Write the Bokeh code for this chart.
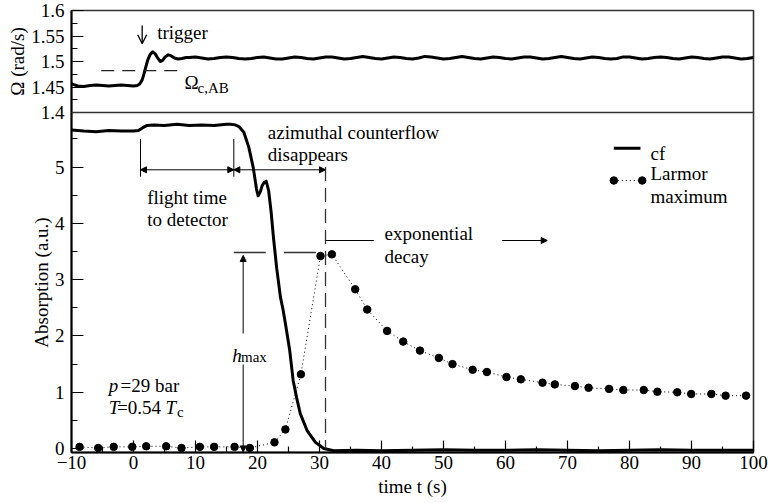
from bokeh.plotting import figure
from bokeh.layouts import column
from bokeh.models import Range1d, FixedTicker, Arrow, NormalHead, OpenHead, Label
from bokeh.embed import file_html
from bokeh.resources import INLINE

FONT = "Liberation Serif"

# ---- time axis ----
x_ticks = [-10, 0, 10, 20, 30, 40, 50, 60, 70, 80, 90, 100]
x_minor = [-5, 5, 15, 25, 35, 45, 55, 65, 75, 85, 95]

# ---- absorption panel (bottom) ----
abs_ticks = [0, 1, 2, 3, 4, 5]
abs_minor = [0.5, 1.5, 2.5, 3.5, 4.5, 5.5]

# ---- rotation panel (top) ----
om_ticks = [1.4, 1.45, 1.5, 1.55, 1.6]
om_minor = [1.425, 1.475, 1.525, 1.575]
omega_c_ab = 1.482

# rotation velocity Omega(t)
om_t_early = [-10, -9, -8, -7, -6, -5, -4, -3, -2, -1, 0, 0.6, 1.0, 1.4, 1.7, 2.0,
              2.3, 2.7, 3.1, 3.5, 3.9, 4.3, 4.7, 5.1, 5.6, 6.1, 6.6, 7.2, 7.8, 8.5]
om_v_early = [1.456, 1.452, 1.451, 1.453, 1.454, 1.453, 1.452, 1.453, 1.454, 1.453,
              1.452, 1.453, 1.456, 1.464, 1.476, 1.490, 1.503, 1.514, 1.519, 1.515,
              1.507, 1.500, 1.502, 1.509, 1.513, 1.511, 1.507, 1.505, 1.506, 1.508]
om_t_late = list(range(9, 101))
om_v_late = [1.508, 1.509, 1.507, 1.505, 1.506, 1.508, 1.509, 1.508, 1.506, 1.505,
             1.506, 1.508, 1.509, 1.507, 1.505, 1.505, 1.507, 1.509, 1.508, 1.506,
             1.505, 1.507, 1.509, 1.509, 1.507, 1.505, 1.506, 1.508, 1.510, 1.508,
             1.506, 1.505, 1.507, 1.509, 1.508, 1.506, 1.505, 1.507, 1.510, 1.509,
             1.507, 1.505, 1.506, 1.508, 1.510, 1.508, 1.506, 1.505, 1.507, 1.509,
             1.508, 1.506, 1.505, 1.507, 1.509, 1.509, 1.507, 1.505, 1.506, 1.508,
             1.510, 1.508, 1.506, 1.505, 1.507, 1.509, 1.508, 1.506, 1.505, 1.506,
             1.509, 1.509, 1.507, 1.505, 1.506, 1.508, 1.509, 1.508, 1.506, 1.505,
             1.507, 1.509, 1.508, 1.506, 1.505, 1.507, 1.509, 1.509, 1.507, 1.505,
             1.506, 1.508]
om_t = om_t_early + om_t_late
om_v = om_v_early + om_v_late

# counterflow absorption signal (cf)
cf_t = [-10, -8, -6, -4, -2, 0, 0.8, 1.5, 2.2, 3.3, 5, 7, 9, 11, 13, 15, 15.6, 16.4,
        17.0, 17.8, 18.6, 19.3, 19.84, 20.1, 20.45, 20.75, 21.1, 21.4, 21.8, 22.2,
        22.6, 23.1, 23.7, 24.1, 24.5, 25.2, 25.75, 26.3, 26.9, 28.0, 29.35, 30.7,
        32.3, 36, 40, 45, 50, 55, 60, 65, 70, 75, 80, 85, 90, 95, 100]
cf_v = [5.66, 5.64, 5.63, 5.65, 5.64, 5.64, 5.65, 5.70, 5.74, 5.75, 5.74, 5.76, 5.74,
        5.75, 5.74, 5.76, 5.76, 5.75, 5.72, 5.62, 5.35, 5.00, 4.61, 4.49, 4.56, 4.67,
        4.73, 4.75, 4.58, 4.20, 3.72, 3.20, 2.69, 2.48, 2.22, 1.74, 1.21, 0.91, 0.62,
        0.32, 0.11, 0.00, -0.04, -0.03, -0.04, -0.03, -0.02, -0.03, -0.03, -0.02,
        -0.03, -0.04, -0.03, -0.02, -0.03, -0.03, -0.03]

# Larmor maximum height
lm_t = [-8.7, -5.7, -3.2, -0.2, 2.05, 5.27, 7.74, 10.7, 13.0, 16.3, 18.76, 22.74,
        24.5, 27.0, 30.16, 32.0, 35.76, 37.7, 40.9, 43.5, 46.2, 49.25, 51.45, 54.7,
        57.0, 60.16, 62.47, 65.97, 67.95, 71.2, 73.4, 76.7, 79.0, 82.3, 84.5, 87.7,
        89.95, 93.2, 95.5, 98.8]
lm_v = [0.03, 0.01, 0.03, 0.03, 0.04, 0.04, 0.01, 0.03, 0.03, 0.03, 0.01, 0.11,
        0.34, 1.32, 3.42, 3.45, 2.83, 2.47, 2.09, 1.90, 1.74, 1.61, 1.50, 1.40,
        1.36, 1.27, 1.23, 1.17, 1.14, 1.11, 1.08, 1.06, 1.04, 1.04, 1.01, 1.00,
        0.97, 0.97, 0.94, 0.94]

# ---- figures: Omega panel on top, absorption panel below (sharing time axis) ----
top = figure(width=768, height=122, x_range=Range1d(-10, 100), y_range=Range1d(1.4, 1.6),
             output_backend="svg", toolbar_location=None, x_axis_type=None,
             min_border_left=71, min_border_right=15, min_border_top=10,
             min_border_bottom=10)
bot = figure(width=768, height=391, x_range=top.x_range, y_range=Range1d(-0.07, 5.97),
             output_backend="svg", toolbar_location=None,
             min_border_left=71, min_border_right=15, min_border_top=0,
             min_border_bottom=51, margin=(-10, 0, 0, 0))


def style_axis(ax):
    ax.axis_line_width = 2
    ax.axis_line_color = "black"
    ax.major_tick_in = 12
    ax.major_tick_out = 0
    ax.minor_tick_in = 6
    ax.minor_tick_out = 0
    ax.major_tick_line_color = "black"
    ax.minor_tick_line_color = "black"
    ax.major_tick_line_width = 1.2
    ax.minor_tick_line_width = 1.2
    ax.major_label_text_font = FONT
    ax.major_label_text_font_size = "19px"
    ax.major_label_text_color = "black"
    ax.axis_label_text_font = FONT
    ax.axis_label_text_font_size = "19px"
    ax.axis_label_text_font_style = "normal"
    ax.axis_label_text_color = "black"


for f in (top, bot):
    f.xgrid.visible = False
    f.ygrid.visible = False
    f.background_fill_color = "white"
    f.border_fill_color = None
    f.outline_line_color = "#333333"
    f.outline_line_width = 1.6
    for ax in f.yaxis:
        style_axis(ax)
        ax.major_label_standoff = 7
        ax.axis_label_standoff = 0
for ax in bot.xaxis:
    style_axis(ax)
    ax.major_label_standoff = 3
    ax.axis_label_standoff = 4

top.yaxis.ticker = FixedTicker(ticks=om_ticks, minor_ticks=om_minor)
top.yaxis.axis_label = "\u03a9 (rad/s)"
bot.yaxis.ticker = FixedTicker(ticks=abs_ticks, minor_ticks=abs_minor)
bot.yaxis.axis_label = "Absorption (a.u.)"
bot.xaxis.ticker = FixedTicker(ticks=x_ticks, minor_ticks=x_minor)
bot.xaxis.axis_label = "time t (s)"


def label(fig, x, y, text, size="19px", style="normal", **kw):
    fig.add_layout(Label(x=x, y=y, text=text, text_font=FONT, text_font_size=size,
                         text_font_style=style, text_color="black",
                         text_baseline="alphabetic", text_align="left", **kw))


def head():
    return NormalHead(size=6, fill_color="black", line_color="black")


# ---- top panel: Omega(t) ----
top.line(om_t, om_v, line_color="black", line_width=3, line_join="round")
top.line([-5.2, 7.1], [omega_c_ab, omega_c_ab], line_color="#222222", line_width=1.3,
         line_dash="13 8")
top.add_layout(Arrow(end=OpenHead(size=9, line_width=1.3, line_color="black"),
                     x_start=1.4, y_start=1.5706, x_end=1.4, y_end=1.5347,
                     line_width=1.3, line_color="black"))
label(top, 3.82, 1.5563, "trigger")
label(top, 8.23, 1.4598, "\u03a9")
label(top, 10.32, 1.448, "c,AB", size="15px")

# ---- bottom panel: absorption ----
bot.line(lm_t, lm_v, line_color="black", line_width=1, line_dash="1 3")
bot.scatter(lm_t, lm_v, size=7.5, color="black")
bot.line(cf_t, cf_v, line_color="black", line_width=3, line_join="round")

# flight time / counterflow disappearance markers
for tx in (1.13, 16.18):
    bot.line([tx, tx], [4.83, 5.50], line_color="black", line_width=1)
for xs, xe in ((1.13, 16.18), (16.18, 30.97)):
    bot.add_layout(Arrow(start=head(), end=head(), x_start=xs, y_start=4.952,
                         x_end=xe, y_end=4.952, line_width=1, line_color="black"))
bot.line([30.97, 30.97], [5.0, 0.0], line_color="#333333", line_width=1.3,
         line_dash="14 7")

# h_max level and arrow
bot.line([16.18, 29.84], [3.483, 3.483], line_color="#333333", line_width=1.3,
         line_dash="32 18")
bot.add_layout(Arrow(end=head(), x_start=17.69, y_start=2.044, x_end=17.69, y_end=3.43,
                     line_width=1, line_color="black"))
bot.add_layout(Arrow(end=head(), x_start=17.69, y_start=1.493, x_end=17.69, y_end=-0.06,
                     line_width=1, line_color="black"))
label(bot, 15.92, 1.653, "h", style="italic")
label(bot, 17.34, 1.635, "max", size="15px")

# exponential decay
bot.line([30.97, 38.76], [3.696, 3.696], line_color="black", line_width=1)
bot.add_layout(Arrow(end=head(), x_start=59.47, y_start=3.696, x_end=66.73,
                     y_end=3.696, line_width=1, line_color="black"))

label(bot, 21.66, 5.620, "azimuthal counterflow")
label(bot, 21.66, 5.224, "disappears")
label(bot, 2.21, 4.465, "flight time")
label(bot, 2.21, 4.064, "to detector")
label(bot, 40.48, 3.826, "exponential")
label(bot, 40.48, 3.412, "decay")

# experimental conditions
label(bot, -3.98, 1.120, "p", style="italic")
label(bot, -2.10, 1.120, "=29 bar")
label(bot, -3.98, 0.724, "T", style="italic")
label(bot, -2.66, 0.724, "=0.54")
label(bot, 5.16, 0.724, "T", style="italic")
label(bot, 7.02, 0.658, "c", size="15px")

# key
bot.line([77.47, 81.77], [5.336, 5.336], line_color="black", line_width=3)
label(bot, 83.39, 5.247, "cf")
bot.line([77.47, 82.05], [4.762, 4.762], line_color="black", line_width=1,
         line_dash="1 3")
bot.scatter([77.47, 82.05], [4.762, 4.762], size=7.5, color="black")
label(bot, 83.39, 4.881, "Larmor")
label(bot, 83.39, 4.478, "maximum")

layout = column(top, bot, spacing=0)
open("out.html", "w").write(file_html(layout, INLINE))
